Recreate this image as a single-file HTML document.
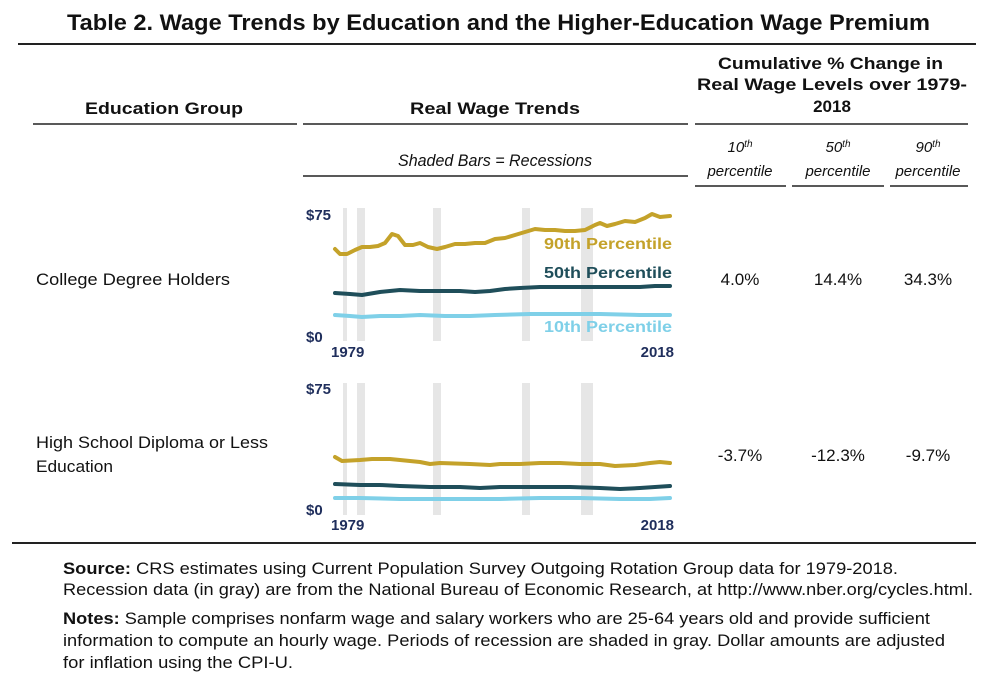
<!DOCTYPE html>
<html><head><meta charset="utf-8"><style>
body{margin:0;background:#fff;}
svg{display:block;}
.t{font-family:"Liberation Sans",sans-serif;}
</style></head><body>
<svg width="1000" height="688" viewBox="0 0 1000 688" xmlns="http://www.w3.org/2000/svg">
<g class="t" fill="#111">
<text x="67" y="30" font-size="22" font-weight="bold" textLength="863" lengthAdjust="spacingAndGlyphs">Table 2. Wage Trends by Education and the Higher-Education Wage Premium</text>
</g>
<line x1="18" y1="44" x2="976" y2="44" stroke="#222" stroke-width="2"/>
<g class="t" fill="#111" font-weight="bold" font-size="17">
<text x="85" y="114" textLength="158" lengthAdjust="spacingAndGlyphs">Education Group</text>
<text x="410" y="114" textLength="170" lengthAdjust="spacingAndGlyphs">Real Wage Trends</text>
<text x="718" y="69" textLength="225" lengthAdjust="spacingAndGlyphs">Cumulative % Change in</text>
<text x="697" y="90" textLength="270" lengthAdjust="spacingAndGlyphs">Real Wage Levels over 1979-</text>
<text x="832" y="112" text-anchor="middle">2018</text>
</g>
<g stroke="#222" stroke-width="1.5">
<line x1="32" y1="166" x2="297" y2="166" stroke="none"/>
<line x1="33" y1="166" x2="297" y2="166" stroke="none"/>
</g>
<g stroke="#222" stroke-width="1.5">
<line x1="33" y1="124" x2="297" y2="124"/>
<line x1="303" y1="124" x2="688" y2="124"/>
<line x1="695" y1="124" x2="968" y2="124"/>
<line x1="303" y1="176" x2="688" y2="176"/>
<line x1="695" y1="186" x2="786" y2="186"/>
<line x1="792" y1="186" x2="884" y2="186"/>
<line x1="890" y1="186" x2="968" y2="186"/>
<line x1="12" y1="543" x2="976" y2="543" stroke-width="2"/>
</g>
<g class="t" fill="#111" font-style="italic" font-size="15" text-anchor="middle">
<text x="398" y="166" text-anchor="start" font-size="17" textLength="194" lengthAdjust="spacingAndGlyphs">Shaded Bars = Recessions</text>
<text x="740" y="152">10<tspan font-size="10" dy="-5">th</tspan></text>
<text x="838" y="152">50<tspan font-size="10" dy="-5">th</tspan></text>
<text x="928" y="152">90<tspan font-size="10" dy="-5">th</tspan></text>
<text x="740" y="176">percentile</text>
<text x="838" y="176">percentile</text>
<text x="928" y="176">percentile</text>
</g>
<g class="t" fill="#111" font-size="17">
<text x="36" y="285" textLength="194" lengthAdjust="spacingAndGlyphs">College Degree Holders</text>
<text x="36" y="448" textLength="232" lengthAdjust="spacingAndGlyphs">High School Diploma or Less</text>
<text x="36" y="472" textLength="77" lengthAdjust="spacingAndGlyphs">Education</text>
<g text-anchor="middle">
<text x="740" y="285">4.0%</text>
<text x="838" y="285">14.4%</text>
<text x="928" y="285">34.3%</text>
<text x="740" y="461">-3.7%</text>
<text x="838" y="461">-12.3%</text>
<text x="928" y="461">-9.7%</text>
</g>
</g>
<g fill="#e6e6e6">
<rect x="343" y="208" width="4" height="133"/><rect x="357" y="208" width="8" height="133"/>
<rect x="433" y="208" width="8" height="133"/><rect x="522" y="208" width="8" height="133"/>
<rect x="581" y="208" width="12" height="133"/>
<rect x="343" y="383" width="4" height="132"/><rect x="357" y="383" width="8" height="132"/>
<rect x="433" y="383" width="8" height="132"/><rect x="522" y="383" width="8" height="132"/>
<rect x="581" y="383" width="12" height="132"/>
</g>
<g fill="none" stroke-width="4" stroke-linejoin="round" stroke-linecap="round">
<polyline stroke="#c4a22a" points="335,249 340,254 347,254 355,250 362,247 370,247 378,246 385,243 392,234 398,236 405,245 413,245 420,243 428,247 437,249 445,247 455,244 465,244 475,243 485,243 495,239 505,238 515,235 525,232 535,229 545,230 555,230 565,231 575,231 585,230 595,225 600,223 607,226 615,224 625,221 635,222 645,218 652,214 660,217 670,216"/>
<polyline stroke="#1f4e5a" points="335,293 350,294 362,295 380,292 400,290 420,291 440,291 460,291 475,292 490,291 505,289 520,288 540,287 560,287 580,287 600,287 620,287 640,287 655,286 670,286"/>
<polyline stroke="#7fd0e8" points="335,315 350,316 362,317 380,316 400,316 420,315 445,316 470,316 495,315 530,314 560,314 600,314 640,315 670,315"/>
<polyline stroke="#c4a22a" points="335,457 342,461 360,460 372,459 390,459 400,460 420,462 430,464 440,463 470,464 490,465 500,464 520,464 540,463 560,463 580,464 600,464 615,466 635,465 650,463 660,462 670,463"/>
<polyline stroke="#1f4e5a" points="335,484 360,485 380,485 400,486 430,487 460,487 480,488 500,487 540,487 570,487 600,488 620,489 640,488 670,486"/>
<polyline stroke="#7fd0e8" points="335,498 360,498 400,499 430,499 470,499 500,499 540,498 580,498 620,499 650,499 670,498"/>
</g>
<g class="t" font-weight="bold" font-size="16">
<text x="544" y="249" fill="#c4a22a" textLength="128" lengthAdjust="spacingAndGlyphs">90th Percentile</text>
<text x="544" y="278" fill="#1f4e5a" textLength="128" lengthAdjust="spacingAndGlyphs">50th Percentile</text>
<text x="544" y="332" fill="#7fd0e8" textLength="128" lengthAdjust="spacingAndGlyphs">10th Percentile</text>
<g fill="#1f2e5c" font-size="15">
<text x="306" y="220">$75</text>
<text x="306" y="342">$0</text>
<text x="331" y="357">1979</text>
<text x="674" y="357" text-anchor="end">2018</text>
<text x="306" y="394">$75</text>
<text x="306" y="515">$0</text>
<text x="331" y="530">1979</text>
<text x="674" y="530" text-anchor="end">2018</text>
</g>
</g>
<g class="t" fill="#111" font-size="17">
<text x="63" y="574" textLength="835" lengthAdjust="spacingAndGlyphs"><tspan font-weight="bold">Source:</tspan> CRS estimates using Current Population Survey Outgoing Rotation Group data for 1979-2018.</text>
<text x="63" y="595" textLength="910" lengthAdjust="spacingAndGlyphs">Recession data (in gray) are from the National Bureau of Economic Research, at http://www.nber.org/cycles.html.</text>
<text x="63" y="624" textLength="867" lengthAdjust="spacingAndGlyphs"><tspan font-weight="bold">Notes:</tspan> Sample comprises nonfarm wage and salary workers who are 25-64 years old and provide sufficient</text>
<text x="63" y="646" textLength="882" lengthAdjust="spacingAndGlyphs">information to compute an hourly wage. Periods of recession are shaded in gray. Dollar amounts are adjusted</text>
<text x="63" y="668" textLength="230" lengthAdjust="spacingAndGlyphs">for inflation using the CPI-U.</text>
</g>
</svg>
</body></html>
